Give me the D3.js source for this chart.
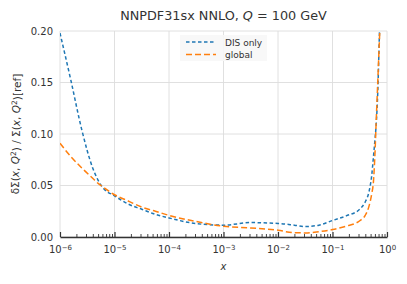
<!DOCTYPE html>
<html>
<head>
<meta charset="utf-8">
<script src="https://cdn.jsdelivr.net/npm/d3@7"></script>
<style>
  body { margin: 0; background: #fff; }
  text { font-family: "DejaVu Sans", sans-serif; fill: #333; }
</style>
</head>
<body>
<div id="chart"></div>
<script>
// data, x given as log10(x)
var logX = [-6, -5.8, -5.6, -5.4, -5.3, -5.2, -5, -4.75, -4.5, -4.25, -4, -3.5, -3, -2.5, -2, -1.7, -1.5, -1.25, -1, -0.75, -0.5, -0.4, -0.33, -0.28, -0.25, -0.22, -0.2, -0.17, -0.14, -0.12];
var disOnly = [0.198, 0.152, 0.104, 0.067, 0.055, 0.047, 0.040, 0.032, 0.027, 0.022, 0.0185, 0.013, 0.0115, 0.014, 0.0132, 0.0115, 0.0102, 0.0115, 0.016, 0.0205, 0.027, 0.034, 0.044, 0.060, 0.077, 0.095, 0.108, 0.14, 0.195, 0.23];
var globalFit = [0.091, 0.078, 0.067, 0.057, 0.052, 0.048, 0.041, 0.035, 0.029, 0.025, 0.021, 0.015, 0.0105, 0.0088, 0.0066, 0.0041, 0.0040, 0.0052, 0.0072, 0.0105, 0.0158, 0.021, 0.030, 0.042, 0.053, 0.082, 0.11, 0.15, 0.19, 0.215];
var seriesNames = ["DIS only", "global"];
var yTicks = [0, 0.05, 0.10, 0.15, 0.20];
var xDecades = [-6, -5, -4, -3, -2, -1, 0];

var margin = {top: 31, right: 20, bottom: 47, left: 60},
    width = 407 - margin.left - margin.right,
    height = 284 - margin.top - margin.bottom;

var svg = d3.select("#chart")
  .append("svg")
    .attr("width", 407)
    .attr("height", 284)
  .append("g")
    .attr("transform", "translate(" + margin.left + "," + margin.top + ")");

var x = d3.scaleLog().domain([1e-6, 1]).range([0, width]);
var y = d3.scaleLinear().domain([0, 0.2]).range([height, 0]);

// grid
svg.append("g")
  .selectAll("line.gx")
  .data(xDecades)
  .enter().append("line")
    .attr("x1", function(d) { return x(Math.pow(10, d)); })
    .attr("x2", function(d) { return x(Math.pow(10, d)); })
    .attr("y1", 0).attr("y2", height)
    .attr("stroke", "#dcdcdc").attr("stroke-width", 0.9);
svg.append("g")
  .selectAll("line.gy")
  .data(yTicks)
  .enter().append("line")
    .attr("x1", 0).attr("x2", width)
    .attr("y1", function(d) { return y(d); })
    .attr("y2", function(d) { return y(d); })
    .attr("stroke", "#dcdcdc").attr("stroke-width", 0.9);

// y labels
svg.append("g")
  .call(d3.axisLeft(y).tickValues(yTicks).tickSize(0).tickPadding(7).tickFormat(d3.format(".2f")))
  .call(function(g) { g.select(".domain").remove(); })
  .selectAll("text")
    .style("font-size", "10px")
    .style("font-family", "DejaVu Sans")
    .attr("fill", "#333");

// lines
svg.append("clipPath").attr("id", "clip")
  .append("rect").attr("width", width).attr("height", height);

var line = d3.line()
  .x(function(d) { return x(Math.pow(10, d[0])); })
  .y(function(d) { return y(d[1]); })
  .curve(d3.curveMonotoneX);

var colors = ["#1f77b4", "#ff7f0e"];
var dashes = ["3.5,2.5", "6,3"];
[disOnly, globalFit].forEach(function(vals, i) {
  svg.append("path")
    .datum(logX.map(function(lx, j) { return [lx, vals[j]]; }))
    .attr("clip-path", "url(#clip)")
    .attr("fill", "none")
    .attr("stroke", colors[i])
    .attr("stroke-width", 1.5)
    .attr("stroke-dasharray", dashes[i])
    .attr("d", line);
});

// x axis: minor ticks
var minors = [];
for (var e = -6; e < 0; e++) {
  for (var k = 2; k <= 9; k++) minors.push(k * Math.pow(10, e));
}
svg.append("g")
  .attr("transform", "translate(0," + height + ")")
  .call(d3.axisBottom(x).tickValues(minors).tickSize(-3).tickFormat(""))
  .call(function(g) { g.select(".domain").remove(); })
  .selectAll("line").attr("stroke", "#333").attr("stroke-width", 0.9);

var xAxis = svg.append("g")
  .attr("transform", "translate(0," + height + ")")
  .call(d3.axisBottom(x)
    .tickValues(xDecades.map(function(d) { return Math.pow(10, d); }))
    .tickSizeInner(-5).tickSizeOuter(0).tickPadding(9)
    .tickFormat(""));
xAxis.select(".domain").attr("stroke", "#333").attr("stroke-width", 1.4);
xAxis.selectAll("line").attr("stroke", "#333").attr("stroke-width", 1.2);
xAxis.selectAll(".tick text")
  .style("font-size", "10px")
  .style("font-family", "DejaVu Sans")
  .attr("fill", "#333")
  .each(function(d) {
    var t = d3.select(this);
    t.text("10");
    t.append("tspan")
      .attr("dy", "-0.45em")
      .style("font-size", "7px")
      .text(d3.format("d")(Math.round(Math.log10(d))).replace("-", "\u2212"));
  });

// axis labels
svg.append("text")
  .attr("x", width / 2).attr("y", height + 33)
  .attr("text-anchor", "middle")
  .style("font-size", "10px")
  .style("font-style", "italic")
  .text("x");

var yl = svg.append("text")
  .attr("transform", "translate(-41," + (height / 2) + ") rotate(-90)")
  .attr("text-anchor", "middle")
  .style("font-size", "10.5px");
yl.append("tspan").text("\u03b4\u03a3(");
yl.append("tspan").style("font-style", "italic").text("x");
yl.append("tspan").text(", ");
yl.append("tspan").style("font-style", "italic").text("Q");
yl.append("tspan").attr("dy", "-0.4em").style("font-size", "7.5px").text("2");
yl.append("tspan").attr("dy", "0.4em").text(") / \u03a3(");
yl.append("tspan").style("font-style", "italic").text("x");
yl.append("tspan").text(", ");
yl.append("tspan").style("font-style", "italic").text("Q");
yl.append("tspan").attr("dy", "-0.4em").style("font-size", "7.5px").text("2");
yl.append("tspan").attr("dy", "0.4em").text(")[ref]");

// title
var title = svg.append("text")
  .attr("x", width / 2).attr("y", -11)
  .attr("text-anchor", "middle")
  .style("font-size", "12.8px");
title.append("tspan").text("NNPDF31sx NNLO, ");
title.append("tspan").style("font-style", "italic").text("Q");
title.append("tspan").text(" = 100 GeV");

// legend
var leg = svg.append("g").attr("transform", "translate(120,4)");
leg.append("rect")
  .attr("width", 87).attr("height", 26)
  .attr("fill", "#f7f7f7").attr("fill-opacity", 0.9);
seriesNames.forEach(function(name, i) {
  var ly = 7 + i * 12.5;
  leg.append("line")
    .attr("x1", 6).attr("x2", 36)
    .attr("y1", ly).attr("y2", ly)
    .attr("stroke", colors[i]).attr("stroke-width", 1.5)
    .attr("stroke-dasharray", dashes[i]);
  leg.append("text")
    .attr("x", 45).attr("y", ly + 3.5)
    .style("font-size", "9px")
    .text(name);
});
</script>
</body>
</html>
